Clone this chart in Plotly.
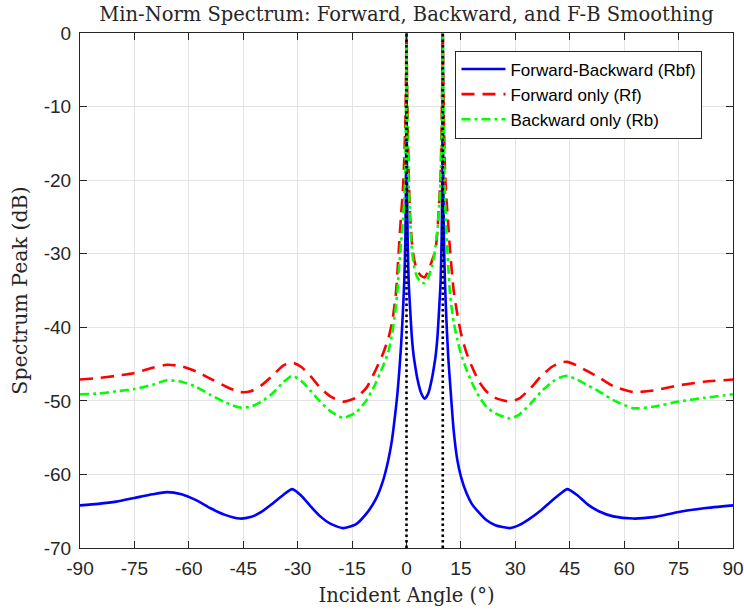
import plotly.graph_objects as go

angles = [-90, -85, -80, -75, -70, -66, -62, -58, -54, -50,
          -46, -43, -40, -37, -34, -31.5, -29, -26.5, -24, -21,
          -17.5, -14, -11, -8.5, -6.5,
          -5, -4, -3, -2.5, -2, -1.5, -1, -0.6, -0.3, -0.12,
          0, 0.12, 0.3, 0.6, 1, 1.5, 2, 2.5, 3, 4,
          5, 6, 7, 7.5, 8, 8.5, 9, 9.4, 9.7, 9.88,
          10, 10.12, 10.3, 10.6, 11, 11.5, 12, 13, 14, 15,
          16.5, 18, 20, 22, 24.5,
          28.5, 31, 34, 37, 40, 42.5, 44.3, 47, 50, 53,
          57, 62.5, 68, 75, 82, 90]

rbf = [-64.2, -64.0, -63.7, -63.2, -62.7, -62.4, -62.7, -63.5, -64.6, -65.5,
       -66.0, -65.8, -65.1, -64.0, -62.8, -62.0, -62.9, -64.3, -65.6, -66.7,
       -67.3, -66.8, -65.3, -63.4, -60.9,
       -58.0, -55.3, -51.3, -49.0, -46.0, -42.5, -38.0, -33.5, -27.5, -18.0,
       0.0, -18.0, -27.5, -33.8, -37.5, -41.5, -44.0, -45.6, -47.0, -48.9,
       -49.7, -49.0, -47.0, -45.6, -44.0, -41.5, -37.5, -33.8, -27.5, -18.0,
       0.0, -18.0, -27.5, -33.8, -39.0, -44.0, -47.5, -54.0, -58.0, -60.3,
       -62.5, -64.0, -65.2, -66.2, -66.9,
       -67.3, -66.9, -66.0, -64.9, -63.6, -62.6, -62.0, -62.8, -64.1, -65.0,
       -65.7, -66.0, -65.8, -65.1, -64.6, -64.2]

rf = [-47.1, -46.9, -46.6, -46.2, -45.5, -45.1, -45.3, -46.0, -47.0, -48.0,
      -48.8, -48.7, -47.9, -46.6, -45.2, -44.8, -45.4, -46.6, -48.1, -49.4,
      -50.1, -49.6, -48.2, -45.8, -43.6,
      -41.5, -39.4, -35.8, -32.5, -28.5, -24.8, -21.5, -17.0, -11.5, -5.5,
      0.0, -5.5, -11.5, -19.0, -25.0, -28.5, -30.5, -31.6, -32.3, -33.0,
      -33.2, -32.3, -31.0, -30.3, -29.5, -27.0, -23.0, -19.5, -12.0, -6.0,
      0.0, -5.5, -11.5, -18.5, -22.5, -26.0, -29.5, -35.0, -38.2, -40.8,
      -43.4, -45.3, -47.4, -48.7, -49.6,
      -50.1, -49.7, -48.4, -46.7, -45.4, -44.8, -44.7, -45.2, -46.0, -46.8,
      -48.0, -48.8, -48.6, -47.9, -47.4, -47.1]

rb = [-49.1, -49.0, -48.7, -48.4, -47.8, -47.2, -47.4, -48.1, -49.2, -50.2,
      -50.9, -50.8, -50.1, -49.0, -47.5, -46.6, -47.3, -48.6, -50.0, -51.4,
      -52.3, -51.6, -49.9, -47.6, -45.3,
      -43.3, -41.0, -37.5, -35.0, -31.5, -28.5, -25.5, -22.5, -18.5, -9.0,
      0.0, -8.0, -15.0, -20.5, -25.4, -29.5, -31.5, -32.6, -33.2, -33.9,
      -34.0, -33.2, -31.8, -30.6, -29.0, -27.0, -23.5, -20.0, -14.0, -7.0,
      0.0, -8.0, -15.0, -22.0, -27.5, -31.5, -35.5, -39.3, -41.6, -43.6,
      -45.7, -47.5, -49.4, -50.8, -51.7,
      -52.4, -51.9, -50.5, -48.8, -47.5, -46.8, -46.6, -47.1, -47.9, -48.7,
      -49.9, -51.0, -50.8, -50.1, -49.6, -49.1]

true_angles = [0, 10]

x_ticks = [-90, -75, -60, -45, -30, -15, 0, 15, 30, 45, 60, 75, 90]
x_labels = ["-90", "-75", "-60", "-45", "-30", "-15", "0", "15", "30", "45", "60", "75", "90"]
y_ticks = [0, -10, -20, -30, -40, -50, -60, -70]
y_labels = ["0", "-10", "-20", "-30", "-40", "-50", "-60", "-70"]

series_names = ["Forward-Backward (Rbf)", "Forward only (Rf)", "Backward only (Rb)"]

SERIF = "DejaVu Serif, Liberation Serif, serif"
SANS = "Liberation Sans, Arial, sans-serif"

fig = go.Figure()
fig.add_trace(go.Scatter(x=angles, y=rbf, mode="lines", name=series_names[0],
                         line=dict(color="#0000ff", width=2.6, shape="spline", smoothing=0.6)))
fig.add_trace(go.Scatter(x=angles, y=rf, mode="lines", name=series_names[1],
                         line=dict(color="#ff0000", width=2.6, dash="13px,8px", shape="spline", smoothing=0.6)))
fig.add_trace(go.Scatter(x=angles, y=rb, mode="lines", name=series_names[2],
                         line=dict(color="#00ff00", width=2.6, dash="9px,4px,3px,4px", shape="spline", smoothing=0.6)))

for a in true_angles:
    fig.add_vline(x=a, line=dict(color="black", width=2.6, dash="2.5px,3px"), layer="above")

axis_common = dict(
    showline=True, linecolor="#262626", linewidth=1, mirror="ticks",
    ticks="inside", ticklen=7, tickcolor="#262626",
    showgrid=True, gridcolor="#e3e3e3", gridwidth=1, zeroline=False,
    tickfont=dict(family=SANS, size=19, color="#262626"),
)

W, H = 744, 612

fig.update_layout(
    width=W, height=H,
    margin=dict(l=80, r=11, t=33, b=64, autoexpand=False),
    paper_bgcolor="white", plot_bgcolor="white",
    title=dict(text="Min-Norm Spectrum: Forward, Backward, and F-B Smoothing",
               font=dict(family=SERIF, size=19.5, color="#262626"),
               x=0.5, xref="paper", xanchor="center", y=1 - 14 / H, yanchor="middle"),
    xaxis=dict(range=[-90, 90], tickvals=x_ticks, ticktext=x_labels, ticklabelstandoff=3,
               automargin=False,
               title=dict(text="Incident Angle (°)", standoff=10,
                          font=dict(family=SERIF, size=19.5, color="#262626")),
               **axis_common),
    yaxis=dict(range=[-70, 0], tickvals=y_ticks, ticktext=y_labels, ticklabelstandoff=4,
               automargin=False,
               title=dict(text="Spectrum Peak (dB)", standoff=10,
                          font=dict(family=SERIF, size=20.5, color="#262626")),
               **axis_common),
    legend=dict(x=0.575, y=0.966, xanchor="left", yanchor="top",
                bgcolor="white", bordercolor="#262626", borderwidth=1,
                font=dict(family=SANS, size=17, color="black"),
                itemwidth=44, tracegroupgap=0),
    showlegend=True,
)

fig.write_html("out.html", config={"displayModeBar": False},
               post_script="document.body.style.margin='0';document.body.style.padding='0';")
